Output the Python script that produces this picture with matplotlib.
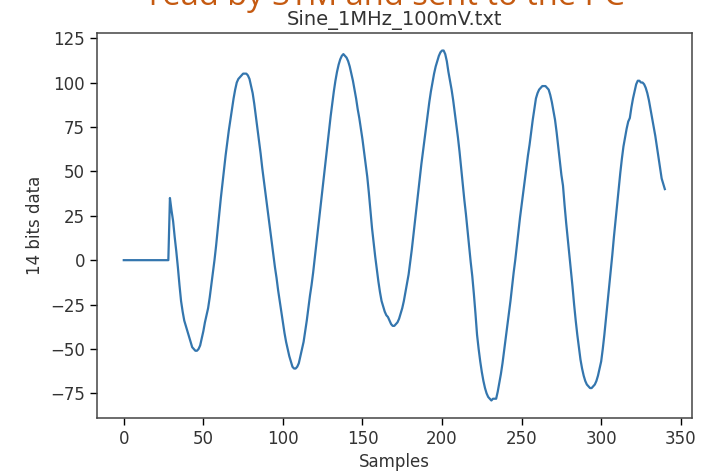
import matplotlib.pyplot as plt
import numpy as np

# 14 bit ADC samples read from the capture (Sine_1MHz_100mV.txt)
idle = [0] * 29
values = idle + [
    35, 28, 22, 13, 5, -4, -14, -23, -29, -34,
    -37, -40, -43, -46, -49, -50, -51, -51, -50, -48,
    -44, -40, -35, -31, -27, -21, -14, -7, 0, 8,
    17, 26, 35, 43, 51, 59, 66, 73, 79, 85,
    91, 96, 100, 102, 103, 104, 105, 105, 105, 104,
    102, 98, 94, 88, 81, 74, 67, 60, 52, 45,
    38, 31, 24, 17, 10, 3, -4, -10, -17, -23,
    -29, -35, -41, -46, -50, -54, -57, -60, -61, -61,
    -60, -58, -54, -50, -46, -40, -34, -27, -20, -14,
    -7, 1, 9, 17, 25, 33, 41, 49, 57, 65,
    73, 81, 88, 95, 101, 106, 110, 113, 115, 116,
    115, 114, 112, 109, 105, 101, 96, 91, 85, 80,
    74, 68, 61, 54, 47, 38, 28, 18, 10, 2,
    -5, -12, -18, -23, -26, -29, -31, -32, -34, -36,
    -37, -37, -36, -35, -33, -30, -27, -23, -18, -13,
    -8, -1, 6, 14, 22, 30, 38, 46, 54, 61,
    68, 75, 82, 89, 95, 100, 105, 109, 112, 115,
    117, 118, 118, 116, 112, 106, 101, 96, 90, 83,
    76, 69, 61, 52, 43, 34, 26, 17, 8, -1,
    -9, -19, -30, -42, -50, -57, -63, -68, -72, -75,
    -77, -78, -79, -78, -78, -78, -74, -69, -64, -58,
    -51, -44, -37, -30, -23, -15, -7, 0, 8, 16,
    24, 31, 38, 45, 52, 59, 65, 72, 79, 85,
    91, 94, 96, 97, 98, 98, 98, 97, 96, 93,
    89, 84, 79, 72, 64, 56, 48, 42, 31, 21,
    12, 3, -6, -15, -25, -34, -42, -49, -56, -61,
    -65, -68, -70, -71, -72, -72, -71, -70, -68, -65,
    -61, -57, -50, -42, -33, -24, -15, -6, 3, 13,
    22, 31, 40, 49, 57, 64, 69, 74, 78, 80,
    86, 91, 95, 99, 101, 101, 100, 100, 99, 97,
    94, 90, 85, 80, 75, 70, 64, 58, 52, 46,
    43, 40,
]
samples = np.arange(len(values))

plt.rcParams['font.size'] = 12
fig = plt.figure(figsize=(7.06, 4.72), dpi=100)
ax = fig.add_axes([0.137, 0.1144, 0.843, 0.8156])

ax.plot(samples, values, color='#3476ae', linewidth=1.6)
ax.set_title('Sine_1MHz_100mV.txt', fontsize=14, pad=6, color='#333333')
ax.set_xlabel('Samples', fontsize=12, color='#333333')
ax.set_ylabel('14 bits data', fontsize=12, color='#333333')
ax.tick_params(length=5, width=1, labelsize=12, labelcolor='#333333')
for s in ax.spines.values():
    s.set_linewidth(1.1)
    s.set_color('#444444')

# slide heading, cut off by the screenshot
fig.text(0.548, 0.972, 'read by STM and sent to the PC', ha='center', va='bottom',
         fontsize=23.5, color='#c55a11', family='Open Sans')

fig.savefig('out.png', dpi=100)
